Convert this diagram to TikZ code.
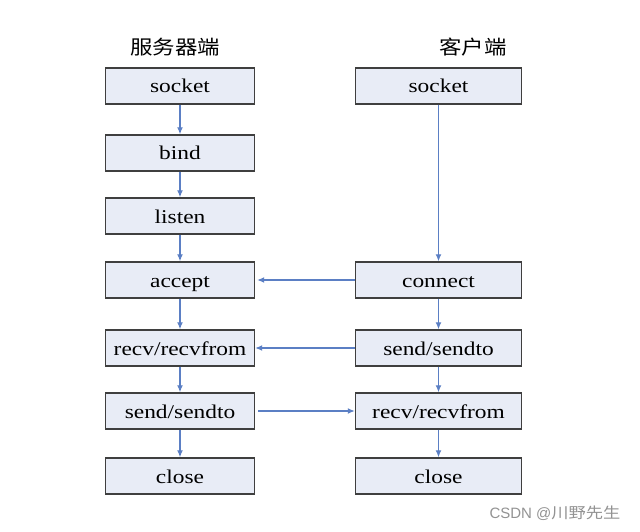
\documentclass[tikz,border=0pt]{standalone}
\usepackage{fontspec}
\setmainfont{Liberation Serif}[FakeStretch=1.2]
\newfontfamily\cjk{Noto Sans CJK SC}[FakeStretch=1.15]
\newfontfamily\marksans{Liberation Sans}
\usepackage{xcolor}
\usetikzlibrary{arrows.meta}
\definecolor{boxfill}{HTML}{E8ECF6}
\definecolor{boxline}{HTML}{3F3F3F}
\definecolor{flow}{HTML}{5B7FC4}

\tikzset{
  lbox/.style={draw=boxline,fill=boxfill,line width=1.4pt,minimum height=36pt,minimum width=149pt,inner sep=0pt,text height=15pt,text depth=1pt,font=\fontsize{19.5}{20}\selectfont},
  rbox/.style={lbox,minimum width=166pt},
  flowto/.style={draw=flow,line width=1.3pt,-{Latex[length=7pt,width=6pt]}}
}

\begin{document}
\begin{tikzpicture}[x=1pt,y=-1pt]
  \useasboundingbox[fill=white] (0,0) rectangle (640,532);

  % titles
  \node (srvtitle) at (175,47) {\cjk\fontsize{19.5}{20}\selectfont 服务器端};
  \node (clititle) at (473,47) {\cjk\fontsize{19.5}{20}\selectfont 客户端};

  % server side
  \node[lbox] (ssocket) at (180,86)  {socket};
  \node[lbox] (sbind)   at (180,153) {bind};
  \node[lbox] (slisten) at (180,216) {listen};
  \node[lbox] (saccept) at (180,280) {accept};
  \node[lbox] (srecv)   at (180,348) {recv/recvfrom};
  \node[lbox] (ssend)   at (180,411) {send/sendto};
  \node[lbox] (sclose)  at (180,476) {close};

  % client side
  \node[rbox] (csocket)  at (438.5,86)  {socket};
  \node[rbox] (cconnect) at (438.5,280) {connect};
  \node[rbox] (csend)    at (438.5,348) {send/sendto};
  \node[rbox] (crecv)    at (438.5,411) {recv/recvfrom};
  \node[rbox] (cclose)   at (438.5,476) {close};

  \draw[flowto] (ssocket) -- (sbind);
  \draw[flowto] (sbind) -- (slisten);
  \draw[flowto] (slisten) -- (saccept);
  \draw[flowto] (saccept) -- (srecv);
  \draw[flowto] (srecv) -- (ssend);
  \draw[flowto] (ssend) -- (sclose);

  \draw[flowto] (csocket) -- (cconnect);
  \draw[flowto] (cconnect) -- (csend);
  \draw[flowto] (csend) -- (crecv);
  \draw[flowto] (crecv) -- (cclose);

  \draw[flowto] (cconnect) -- ([xshift=2pt]saccept.east);
  \draw[flowto] (csend) -- (srecv);
  \draw[flowto] ([xshift=3pt]ssend.east) -- (crecv);

  % watermark
  \node[text=gray!85,anchor=east] (mark) at (624,513) {\marksans\fontsize{15}{16}\selectfont CSDN @\cjk 川野先生};
\end{tikzpicture}
\end{document}
